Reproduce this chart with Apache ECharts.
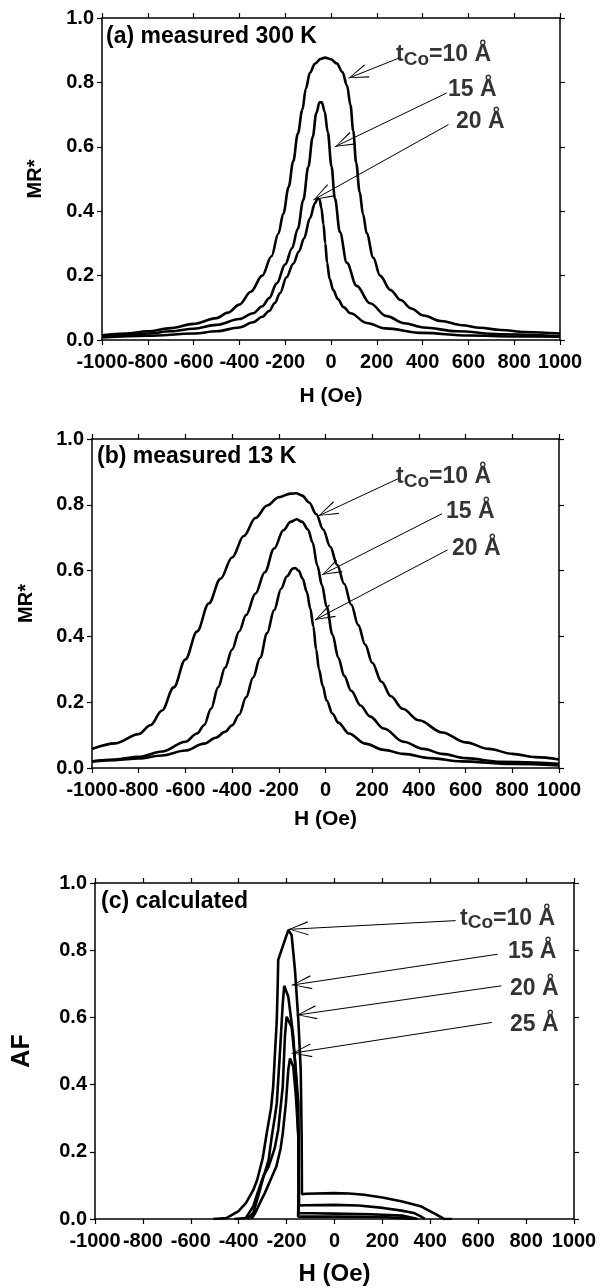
<!DOCTYPE html>
<html><head><meta charset="utf-8">
<script src="https://cdn.jsdelivr.net/npm/echarts@6/dist/echarts.min.js"></script>
<style>html,body{margin:0;padding:0;background:#fff}#c{width:602px;height:1288px}</style>
</head><body><div id="c"></div>
<script>
// ---------- data ----------
const panelTitles = ['(a) measured 300 K', '(b) measured 13 K', '(c) calculated'];
const yNames = ['MR*', 'MR*', 'AF'];
const xName = 'H (Oe)';
const xMin = -1000, xMax = 1000, xStep = 200;
const yMin = 0, yMax = 1, yStep = 0.2;

// (a) measured 300 K : [H (Oe), MR*]
const a10 = [[-1000,0.015],[-900,0.02],[-800,0.027],[-700,0.037],[-600,0.05],[-500,0.068],[-450,0.085],[-400,0.11],[-350,0.15],[-300,0.2],[-260,0.26],[-230,0.33],[-208,0.393],[-185,0.475],[-165,0.555],[-145,0.64],[-125,0.715],[-110,0.78],[-92,0.83],[-70,0.858],[-45,0.873],[-26,0.877],[0,0.872],[25,0.859],[50,0.832],[70,0.79],[85,0.73],[97,0.65],[110,0.55],[125,0.46],[140,0.39],[156,0.331],[185,0.255],[214,0.2],[260,0.155],[304,0.124],[350,0.098],[404,0.076],[480,0.059],[572,0.046],[650,0.038],[740,0.031],[850,0.025],[1000,0.02]];
const a15 = [[-1000,0.012],[-900,0.015],[-800,0.02],[-700,0.027],[-600,0.035],[-500,0.047],[-400,0.065],[-340,0.083],[-300,0.105],[-270,0.13],[-237,0.176],[-200,0.235],[-170,0.285],[-145,0.345],[-121,0.435],[-99,0.538],[-80,0.63],[-64,0.705],[-50,0.738],[-40,0.738],[-28,0.71],[-14,0.645],[2,0.54],[17,0.44],[39,0.335],[69,0.24],[112,0.168],[170,0.114],[243,0.074],[320,0.052],[404,0.039],[550,0.027],[740,0.018],[1000,0.012]];
const a20 = [[-1000,0.008],[-800,0.013],[-600,0.02],[-500,0.027],[-400,0.039],[-340,0.055],[-300,0.072],[-270,0.09],[-245,0.115],[-223,0.145],[-194,0.195],[-165,0.237],[-140,0.275],[-118,0.315],[-92,0.378],[-70,0.425],[-58,0.44],[-50,0.436],[-42,0.41],[-33,0.36],[-25,0.3],[-17,0.24],[-6,0.19],[10,0.155],[30,0.127],[55,0.102],[85,0.083],[156,0.053],[237,0.036],[400,0.022],[600,0.014],[800,0.011],[1000,0.01]];

// (b) measured 13 K
const b10 = [[-1000,0.058],[-900,0.075],[-800,0.103],[-750,0.13],[-700,0.175],[-650,0.245],[-600,0.33],[-550,0.415],[-500,0.5],[-450,0.575],[-400,0.64],[-350,0.705],[-300,0.76],[-250,0.798],[-200,0.823],[-150,0.834],[-125,0.835],[-100,0.828],[-70,0.807],[-40,0.772],[-10,0.725],[20,0.673],[50,0.618],[80,0.56],[110,0.497],[140,0.435],[170,0.375],[200,0.32],[240,0.262],[280,0.218],[330,0.18],[400,0.145],[500,0.108],[600,0.078],[700,0.058],[800,0.043],[900,0.033],[1000,0.026]];
const b15 = [[-1000,0.02],[-900,0.026],[-800,0.034],[-700,0.05],[-600,0.08],[-550,0.105],[-520,0.13],[-490,0.18],[-460,0.245],[-430,0.305],[-400,0.36],[-370,0.415],[-340,0.465],[-300,0.53],[-260,0.595],[-220,0.667],[-180,0.723],[-150,0.748],[-123,0.756],[-100,0.748],[-75,0.725],[-55,0.685],[-35,0.615],[-15,0.555],[5,0.49],[30,0.405],[55,0.335],[80,0.28],[110,0.235],[150,0.19],[190,0.157],[250,0.12],[334,0.08],[420,0.058],[500,0.043],[600,0.03],[750,0.019],[1000,0.013]];
const b20 = [[-1000,0.02],[-900,0.024],[-800,0.029],[-700,0.038],[-600,0.053],[-520,0.074],[-470,0.092],[-430,0.11],[-400,0.13],[-370,0.162],[-340,0.215],[-310,0.275],[-280,0.335],[-250,0.41],[-220,0.48],[-190,0.545],[-165,0.583],[-140,0.606],[-130,0.608],[-115,0.6],[-98,0.576],[-80,0.535],[-65,0.485],[-52,0.43],[-40,0.36],[-28,0.3],[-12,0.25],[5,0.205],[30,0.165],[55,0.138],[100,0.105],[170,0.074],[250,0.055],[334,0.043],[450,0.03],[580,0.02],[800,0.012],[1000,0.008]];

// (c) calculated : [H (Oe), AF]
const c10 = [[-506,0],[-450,0.003],[-402,0.023],[-370,0.047],[-340,0.085],[-323,0.116],[-300,0.18],[-283,0.255],[-265,0.33],[-256,0.394],[-248,0.5],[-241,0.592],[-237,0.7],[-235,0.771],[-193,0.86],[-179,0.845],[-165,0.741],[-151,0.592],[-141,0.443],[-137,0.235],[-136,0.074],[-116,0.075],[-4,0.077],[60,0.076],[124,0.072],[200,0.064],[283,0.052],[363,0.037],[426,0.013],[458,0],[490,0]];
const c15 = [[-418,0],[-370,0.003],[-339,0.038],[-320,0.08],[-307,0.107],[-290,0.14],[-275,0.176],[-262,0.245],[-250,0.3],[-241,0.344],[-228,0.493],[-216,0.642],[-210,0.694],[-193,0.662],[-172,0.543],[-158,0.394],[-151,0.245],[-148,0.04],[-120,0.041],[0,0.042],[100,0.04],[203,0.033],[280,0.025],[331,0.018],[360,0.008],[378,0]];
const c20 = [[-363,0],[-339,0.018],[-315,0.077],[-295,0.13],[-275,0.156],[-250,0.21],[-235,0.265],[-216,0.394],[-207,0.543],[-200,0.602],[-179,0.572],[-165,0.473],[-151,0.344],[-149,0.2],[-150,0.017],[-100,0.017],[0,0.016],[150,0.014],[283,0.01],[347,0]];
const c25 = [[-347,0],[-331,0.018],[-310,0.05],[-291,0.077],[-265,0.12],[-243,0.156],[-225,0.21],[-216,0.255],[-203,0.344],[-193,0.443],[-186,0.478],[-172,0.453],[-161,0.364],[-151,0.245],[-150,0.1],[-152,0.007],[-100,0.007],[0,0.007],[203,0.006],[331,0]];

const curves = [[a10, a15, a20], [b10, b15, b20], [c10, c15, c20, c25]];

// annotation labels: [H, value, text] (left edge, vertical centre)
const labelsA = [[284,0.885,'{t|t}{s|Co}{t|=10 Å}'],[511,0.776,'{t|15 Å}'],[546,0.677,'{t|20 Å}']];
const labelsB = [[302,0.885,'{t|t}{s|Co}{t|=10 Å}'],[516,0.779,'{t|15 Å}'],[542,0.668,'{t|20 Å}']];
const labelsC = [[524,0.895,'{t|t}{s|Co}{t|=10 Å}'],[724,0.796,'{t|15 Å}'],[733,0.687,'{t|20 Å}'],[733,0.577,'{t|25 Å}']];
// arrows: [fromH, fromV, toH, toV]
const arrowsA = [[295,0.875,76,0.813],[505,0.767,17,0.6],[513,0.669,-77,0.435]];
const arrowsB = [[310,0.879,-31,0.766],[499,0.773,-16,0.587],[523,0.663,-45,0.45]];
const arrowsC = [[506,0.888,-193,0.862],[681,0.788,-179,0.696],[697,0.694,-158,0.607],[657,0.585,-179,0.493]];
const labels = [labelsA, labelsB, labelsC];
const arrows = [arrowsA, arrowsB, arrowsC];

// ---------- layout / style ----------
const FF = "'Liberation Sans', Arial, sans-serif";
const grids = [
  {left:102, top:18, width:458, height:322},
  {left:92, top:439, width:467, height:329},
  {left:95, top:883, width:479, height:336}
];
const titlePos = [[106,25],[97,445],[101,890]];
const xNameGap = [46, 41, 43];
const xNameSize = [21, 21, 24];
const yNameGap = [57, 56, 60];
const yNameSize = [20, 20, 25];
const smoothing = [0.35, 0.35, false];

const chevron = 'path://M10,0L10.02,0L10,0.02Z M10,40 L20,78 L18.3,78.6 L10,44 L1.7,78.6 L0,78Z';

const axisLine = {onZero:false, lineStyle:{color:'#000', width:1.5}};
const axisTick = {show:true, inside:false, length:5, lineStyle:{color:'#000', width:1.2}};
const lblStyle = {fontSize:20, fontWeight:'bold', fontFamily:FF, color:'#000'};

const option = {
  animation:false,
  backgroundColor:'#fff',
  title: panelTitles.map((t,i)=>({text:t, left:titlePos[i][0], top:titlePos[i][1], padding:0,
    textStyle:{fontSize:23, fontWeight:'bold', fontFamily:FF, color:'#000'}})),
  grid: grids,
  xAxis: [], yAxis: [], series: []
};

grids.forEach((g,i)=>{
  option.xAxis.push({gridIndex:i, type:'value', position:'bottom', min:xMin, max:xMax, interval:xStep,
    axisLine, axisTick, splitLine:{show:false},
    axisLabel:Object.assign({margin:12, showMinLabel:true, showMaxLabel:true, formatter:v=>String(v)}, lblStyle),
    name:xName, nameLocation:'middle', nameGap:xNameGap[i],
    nameTextStyle:{fontSize:xNameSize[i], fontWeight:'bold', fontFamily:FF, color:'#000'}});
  option.xAxis.push({gridIndex:i, type:'value', position:'top', min:xMin, max:xMax, interval:xStep,
    axisLine, axisTick, splitLine:{show:false}, axisLabel:{show:false}});
  option.yAxis.push({gridIndex:i, type:'value', position:'left', min:yMin, max:yMax, interval:yStep,
    axisLine, axisTick, splitLine:{show:false},
    axisLabel:Object.assign({margin:8, showMinLabel:true, showMaxLabel:true, formatter:v=>v.toFixed(1)}, lblStyle),
    name:yNames[i], nameLocation:'middle', nameGap:yNameGap[i],
    nameTextStyle:{fontSize:yNameSize[i], fontWeight:'bold', fontFamily:FF, color:'#000'}});
  option.yAxis.push({gridIndex:i, type:'value', position:'right', min:yMin, max:yMax, interval:yStep,
    axisLine, axisTick, splitLine:{show:false}, axisLabel:{show:false}});

  curves[i].forEach(d=>{
    option.series.push({type:'line', xAxisIndex:2*i, yAxisIndex:2*i, data:d, showSymbol:false,
      smooth:smoothing[i], smoothMonotone:'x', silent:true,
      lineStyle:{color:'#000', width:2.6}, itemStyle:{color:'#000'}});
  });

  option.series.push({type:'scatter', xAxisIndex:2*i, yAxisIndex:2*i, symbolSize:0, silent:true,
    data: labels[i].map(l=>({value:[l[0], l[1]], label:{formatter:l[2]}})),
    label:{show:true, position:'right', distance:0,
      rich:{
        t:{fontSize:23, fontWeight:'bold', fontFamily:FF, color:'#000', lineHeight:28},
        s:{fontSize:19, fontWeight:'bold', fontFamily:FF, color:'#000', lineHeight:18, verticalAlign:'bottom'}
      }},
    markLine:{silent:true, symbol:['none', chevron], symbolSize:[14,40], animation:false,
      label:{show:false}, emphasis:{disabled:true},
      lineStyle:{color:'#000', width:1, type:'solid'},
      data: arrows[i].map(a=>[{coord:[a[0],a[1]]},{coord:[a[2],a[3]]}])}
  });
});

const chart = echarts.init(document.getElementById('c'), null, {renderer:'canvas'});
chart.setOption(option);
</script>
</body></html>
